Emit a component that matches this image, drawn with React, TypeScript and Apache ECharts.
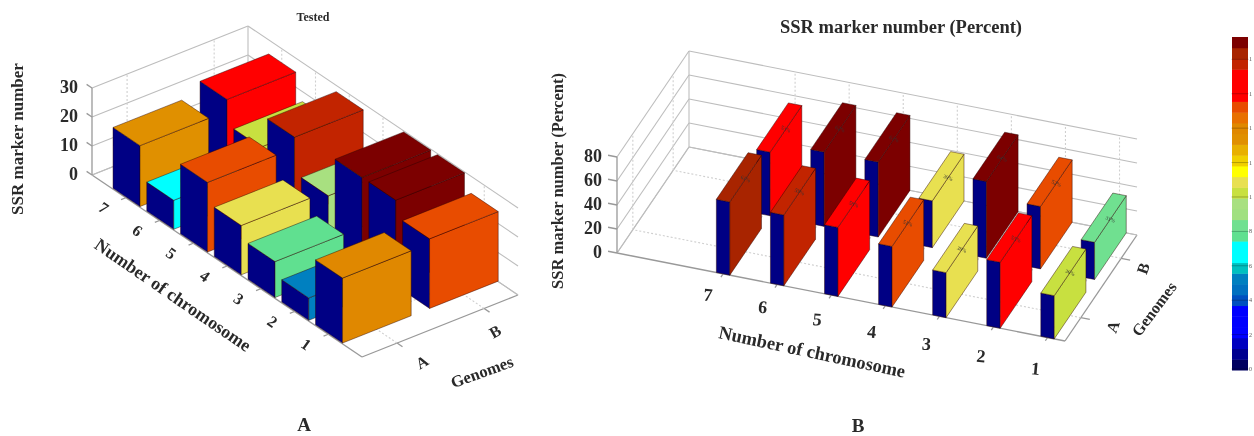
import React, { useEffect, useRef } from "react";
import * as echarts from "echarts";

const chromosomes = [1, 2, 3, 4, 5, 6, 7];
const genomes = ["A", "B"];
const testedA = [22.4, 7.7, 12.4, 17, 24, 10, 21];
const testedB = [24, 29.5, 29.5, 15.3, 27.7, 16.4, 25];
const percentA = [36, 55, 37.5, 50.5, 57.5, 59, 61];
const percentB = [31, 52, 64, 39, 62.5, 62, 53];
const testedTicks = [0, 10, 20, 30];
const percentTicks = [0, 20, 40, 60, 80];
const colorbarTicks = ["0", "2", "4", "6", "8", "1", "1", "1", "1", "1"];
const jet = [
  "#000060", "#000090", "#0000c0", "#0000ff", "#0000ff", "#0000ff", "#0050c0", "#0070c0",
  "#0080c0", "#00c0c0", "#00ffff", "#00ffff", "#60e090", "#70e090", "#a0e080", "#a8e080",
  "#c8e040", "#e8e050", "#ffff00", "#f0d000", "#e8b000", "#e09000", "#e08800", "#e87000",
  "#e84c00", "#ff0000", "#ff0000", "#ff0000", "#c22400", "#a82400", "#7c0000",
];

const FONT = '"Liberation Serif", serif';
const SIDE = "#000084";

type Panel = {
  front: number[]; chromVec: number[]; genomeVec: number[]; zScale: number; zTop: number;
  u0: number; uStep: number; uHalf: number; w0: number; wStep: number; wHalf: number;
  cMin: number; cMax: number; ticks: number[]; a: number[]; b: number[]; percent: boolean;
};

const panelA: Panel = {
  front: [362, 357], chromVec: [-270, -182], genomeVec: [156, -62], zScale: 2.9, zTop: 30,
  u0: 0.125, uStep: 0.125, uHalf: 0.05, w0: 0.225, wStep: 0.558, wHalf: 0.22,
  cMin: 0, cMax: 30, ticks: testedTicks, a: testedA, b: testedB, percent: false,
};
const panelB: Panel = {
  front: [1065, 341], chromVec: [-448, -88], genomeVec: [72, -106], zScale: 1.2, zTop: 80,
  u0: 0.039, uStep: 0.1207, uHalf: 0.015, w0: 0.22, wStep: 0.56, wHalf: 0.22,
  cMin: 6, cMax: 62.6, ticks: percentTicks, a: percentA, b: percentB, percent: true,
};

const proj = (p: Panel, u: number, w: number, z: number) => [
  p.front[0] + u * p.chromVec[0] + w * p.genomeVec[0],
  p.front[1] + u * p.chromVec[1] + w * p.genomeVec[1] - z * p.zScale,
];
const uOf = (p: Panel, c: number) => p.u0 + (c - 1) * p.uStep;
const wOf = (p: Panel, g: number) => p.w0 + g * p.wStep;
const colorOf = (p: Panel, v: number) => {
  const i = Math.round(((v - p.cMin) / (p.cMax - p.cMin)) * (jet.length - 1));
  return jet[Math.max(0, Math.min(jet.length - 1, i))];
};

function barSeries(p: Panel) {
  const rows: number[][] = [];
  for (let g = genomes.length - 1; g >= 0; g--) {
    const vals = g === 0 ? p.a : p.b;
    for (let i = chromosomes.length - 1; i >= 0; i--) rows.push([chromosomes[i], g, vals[i]]);
  }
  return {
    type: "custom",
    coordinateSystem: "cartesian2d",
    clip: false,
    silent: true,
    z: 3,
    data: rows,
    encode: { x: 0, y: 1 },
    renderItem: (_: any, api: any) => {
      const c = api.value(0), g = api.value(1), v = api.value(2);
      const u = uOf(p, c), w = wOf(p, g);
      const P = (du: number, dw: number, z: number) => {
        const q = proj(p, u + du * p.uHalf, w + dw * p.wHalf, z);
        return api.coord(q);
      };
      const col = colorOf(p, v);
      const edge = "rgba(40,0,0,0.55)";
      const poly = (points: number[][], fill: string) => ({
        type: "polygon",
        shape: { points },
        style: { fill, stroke: edge, lineWidth: 0.8 },
      });
      const children: any[] = [
        poly([P(-1, -1, 0), P(1, -1, 0), P(1, -1, v), P(-1, -1, v)], SIDE),
        poly([P(-1, -1, 0), P(-1, 1, 0), P(-1, 1, v), P(-1, -1, v)], col),
        poly([P(-1, -1, v), P(1, -1, v), P(1, 1, v), P(-1, 1, v)], col),
      ];
      if (p.percent) {
        const t = P(-1, 0, v);
        children.push({
          type: "text",
          x: t[0],
          y: t[1],
          rotation: -0.4,
          style: {
            text: `${Math.round(v)}%`,
            font: `5.5px ${FONT}`,
            fill: "#333",
            align: "center",
            verticalAlign: "middle",
          },
        });
      }
      return { type: "group", children };
    },
  };
}

function gridSeries(p: Panel) {
  const segs: number[][] = [];
  const add = (a: number[], b: number[], kind: number) => segs.push([a[0], a[1], b[0], b[1], kind]);
  add(proj(p, 0, 0, 0), proj(p, 0, 1, 0), 1);
  add(proj(p, 0, 0, 0), proj(p, 1, 0, 0), 1);
  add(proj(p, 1, 0, 0), proj(p, 1, 1, 0), 0);
  add(proj(p, 0, 1, 0), proj(p, 1, 1, 0), 0);
  p.ticks.forEach((t) => {
    add(proj(p, 1, 0, t), proj(p, 1, 1, t), 0);
    add(proj(p, 1, 1, t), proj(p, 0, 1, t), 0);
  });
  add(proj(p, 1, 0, 0), proj(p, 1, 0, p.zTop), 1);
  add(proj(p, 1, 1, 0), proj(p, 1, 1, p.zTop), 0);
  chromosomes.forEach((c) => {
    const u = uOf(p, c);
    add(proj(p, u, 1, 0), proj(p, u, 1, p.zTop), 2);
    add(proj(p, u, 0, 0), proj(p, u, 1, 0), 2);
    add(proj(p, u, 0, 0), proj(p, u, -0.03, 0), 1);
  });
  genomes.forEach((_, g) => {
    const w = wOf(p, g);
    add(proj(p, 1, w, 0), proj(p, 1, w, p.zTop), 2);
    add(proj(p, 0, w, 0), proj(p, 1, w, 0), 2);
    add(proj(p, 0, w, 0), proj(p, -0.02, w, 0), 1);
  });
  p.ticks.forEach((t) => add(proj(p, 1, 0, t), proj(p, 1.02, 0, t), 1));
  return {
    type: "custom",
    coordinateSystem: "cartesian2d",
    clip: false,
    silent: true,
    z: 1,
    data: segs,
    encode: { x: [0, 2], y: [1, 3] },
    renderItem: (_: any, api: any) => {
      const a = api.coord([api.value(0), api.value(1)]);
      const b = api.coord([api.value(2), api.value(3)]);
      const kind = api.value(4);
      return {
        type: "line",
        shape: { x1: a[0], y1: a[1], x2: b[0], y2: b[1] },
        style: {
          stroke: kind === 1 ? "#999999" : kind === 2 ? "#cfcfcf" : "#bdbdbd",
          lineWidth: kind === 1 ? 1.3 : 1.1,
          lineDash: kind === 2 ? [2, 2] : undefined,
        },
      };
    },
  };
}

const CB = { x: 1232, w: 16, top: 37, bottom: 370 };
function colorbarSeries() {
  const n = jet.length;
  return {
    type: "custom",
    coordinateSystem: "cartesian2d",
    clip: false,
    silent: true,
    z: 2,
    data: jet.map((_, i) => [CB.x, i]),
    encode: { x: 0, y: 1 },
    renderItem: (params: any, api: any) => {
      const i = params.dataIndex;
      const h = (CB.bottom - CB.top) / n;
      const a = api.coord([CB.x, CB.bottom - (i + 1) * h]);
      return {
        type: "rect",
        shape: { x: a[0], y: a[1], width: CB.w, height: h + 0.5 },
        style: { fill: jet[i] },
      };
    },
  };
}

const txt = (text: string, x: number, y: number, size: number, deg = 0, bold = true, fill = "#2a2a2a", align = "center") => ({
  type: "text",
  x,
  y,
  rotation: (deg * Math.PI) / 180,
  silent: true,
  style: {
    text,
    font: `${bold ? "bold " : ""}${size}px ${FONT}`,
    fill,
    textAlign: align,
    textVerticalAlign: "middle",
  },
});

function labels() {
  const out: any[] = [];
  const a = panelA, b = panelB;
  out.push(txt("Tested", 313, 17, 12));
  out.push(txt("SSR marker number", 17, 139, 17, 90));
  out.push(txt("Number of chromosome", 173, 295, 18, -34.5));
  out.push(txt("Genomes", 482, 372, 16.5, 20));
  out.push(txt("A", 304, 424, 19));
  a.ticks.forEach((t) => {
    const q = proj(a, 1, 0, t);
    out.push(txt(String(t), q[0] - 14, q[1] - 1, 18, 0, true, "#2a2a2a", "right"));
  });
  chromosomes.forEach((c) => {
    const q = proj(a, uOf(a, c), 0, 0);
    out.push(txt(String(c), q[0] - 22, q[1] + 10, 16, -35));
  });
  genomes.forEach((g, i) => {
    const q = proj(a, 0, wOf(a, i), 0);
    out.push(txt(g, q[0] + 25 - 14 * i, q[1] + 19 + 4 * i, 16, 30));
  });

  out.push(txt("SSR marker number (Percent)", 901, 27, 18.5));
  out.push(txt("SSR marker number (Percent)", 557, 181, 16.5, 90));
  out.push(txt("Number of chromosome", 812, 352, 18.5, -12));
  out.push(txt("Genomes", 1154, 309, 16, 53));
  out.push(txt("B", 858, 425, 19));
  b.ticks.forEach((t) => {
    const q = proj(b, 1, 0, t);
    out.push(txt(String(t), q[0] - 15, q[1] - 1, 18, 0, true, "#2a2a2a", "right"));
  });
  chromosomes.forEach((c) => {
    const q = proj(b, uOf(b, c), 0, 0);
    out.push(txt(String(c), q[0] - 12 - (c - 1) * 0.5, q[1] + 31 - ((c - 1) * 10) / 6, 18, -5));
  });
  genomes.forEach((g, i) => {
    const q = proj(b, 0, wOf(b, i), 0);
    out.push(txt(g, q[0] + 32 - 10 * i, q[1] + 9 + i, 16, 70));
  });

  colorbarTicks.forEach((t, i) => {
    const y = CB.bottom - 1 - (i * (CB.bottom - CB.top - 2)) / 9.62;
    out.push({
      type: "rect",
      silent: true,
      shape: { x: CB.x - 0.5, y: y - 0.5, width: CB.w + 1, height: 1 },
      style: { fill: "rgba(0,0,0,0.25)" },
      z: 10,
    });
    out.push(txt(t, 1250.5, y, 6, 0, false, "#555"));
  });
  return out;
}

export default function App() {
  const ref = useRef<HTMLDivElement>(null);
  useEffect(() => {
    document.body.style.margin = "0";
    const chart = echarts.init(ref.current!, undefined, { renderer: "svg" });
    chart.setOption({
      animation: false,
      backgroundColor: "#ffffff",
      grid: { left: 0, right: 0, top: 0, bottom: 0 },
      xAxis: { type: "value", min: 0, max: 1254, show: false },
      yAxis: { type: "value", min: 0, max: 436, inverse: true, show: false },
      graphic: { elements: labels() },
      series: [
        gridSeries(panelA),
        gridSeries(panelB),
        barSeries(panelA),
        barSeries(panelB),
        colorbarSeries(),
      ],
    });
    return () => chart.dispose();
  }, []);
  return <div ref={ref} style={{ width: 1254, height: 436, filter: "blur(0.5px)" }} />;
}
